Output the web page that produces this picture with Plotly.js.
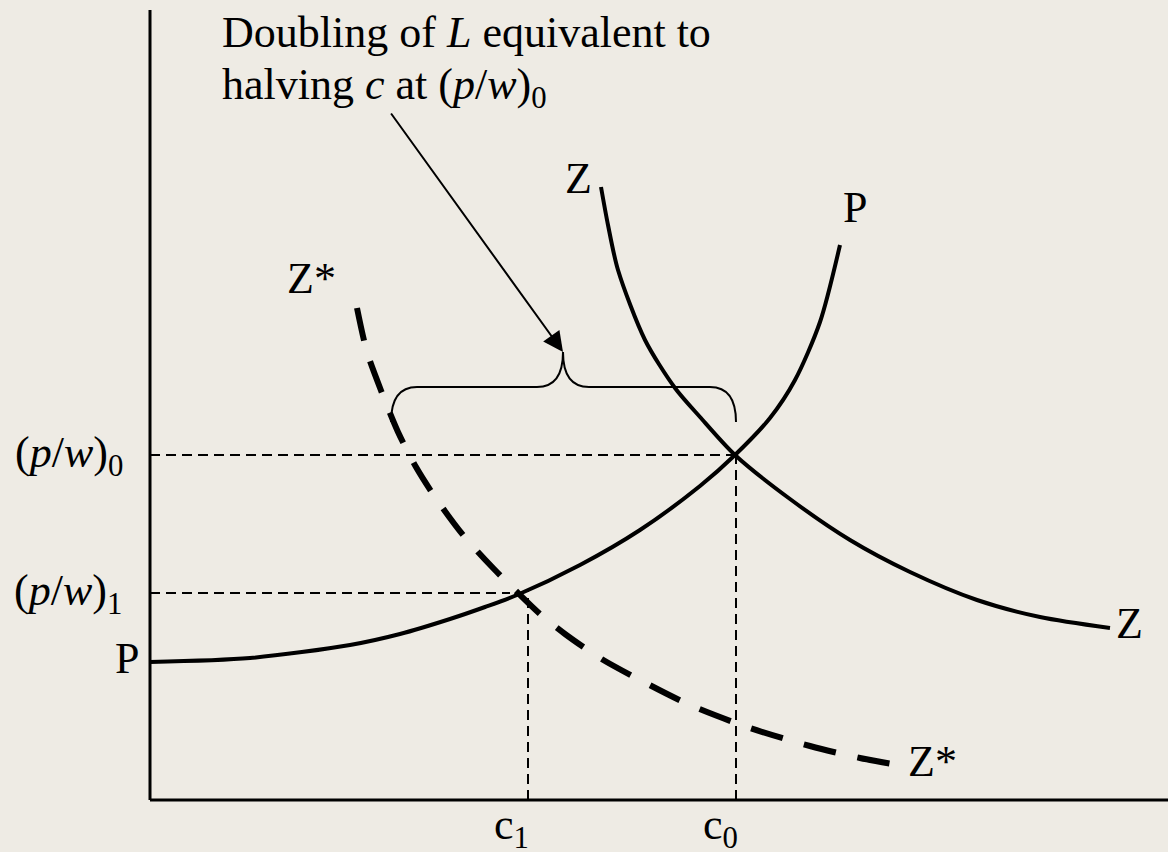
<!DOCTYPE html>
<html>
<head>
<meta charset="utf-8">
<script src="https://cdn.plot.ly/plotly-3.0.1.min.js"></script>
<style>html,body{margin:0;padding:0;background:#EEEBE4;}</style>
</head>
<body>
<div id="chart" style="width:1168px;height:852px;"></div>
<script>
// ---- data (diagram units) ----
const pX  = [0, 100, 200, 250, 300, 335, 367, 430, 490, 550, 585, 620, 645, 670, 690];
const pY  = [138, 142, 155, 166, 181, 193, 205, 235, 270, 314, 345, 382, 420, 478, 555];

const zX  = [451, 458, 468, 495, 525, 550, 585, 640, 700, 760, 827, 890, 960];
const zY  = [613, 575, 530, 460, 412, 383, 345, 301, 260, 228, 200, 183, 172];

const zsX = [207, 217, 232, 248, 266, 287, 313, 344, 367, 390, 415, 450, 490, 540, 600, 660, 710, 748];
const zsY = [492, 448, 407, 368, 333, 300, 265, 231, 208, 186, 166, 142, 120, 95, 72, 54, 42, 35];

const pw0 = 345, pw1 = 207;   // (p/w)0, (p/w)1 levels
const c0 = 586, c1 = 378;     // c0, c1 positions
const pw1End = 360, c1Top = 211;

const braceLeft = 241, braceRight = 586, braceTip = 413;
const braceBase = 378, braceBar = 413, braceTop = 448;

const arrowTail = [240, 688];

const noteLines = ['Doubling of <i>L</i> equivalent to',
                   'halving <i>c</i> at (<i>p</i>/<i>w</i>)<sub>0</sub>'];

const BG = '#EEEBE4';
const FONT = {family: 'Liberation Serif, Times New Roman, serif', size: 44, color: '#000'};

const traces = [
  {x: pX, y: pY, mode: 'lines', line: {color: '#000', width: 4, shape: 'spline', smoothing: 0.8}, hoverinfo: 'skip'},
  {x: zX, y: zY, mode: 'lines', line: {color: '#000', width: 4, shape: 'spline', smoothing: 0.8}, hoverinfo: 'skip'},
  {x: zsX, y: zsY, mode: 'lines', line: {color: '#000', width: 6, shape: 'spline', smoothing: 0.8, dash: '33px,22px'}, hoverinfo: 'skip'}
];

const guide = {color: '#000', width: 2, dash: '10px,6px'};
const r = 26;
const bracePath =
  `M ${braceLeft},${braceBase} Q ${braceLeft},${braceBar} ${braceLeft + r},${braceBar} ` +
  `L ${braceTip - r},${braceBar} Q ${braceTip},${braceBar} ${braceTip},${braceTop} ` +
  `Q ${braceTip},${braceBar} ${braceTip + r},${braceBar} ` +
  `L ${braceRight - r},${braceBar} Q ${braceRight},${braceBar} ${braceRight},${braceBase}`;

const shapes = [
  {type: 'line', x0: 0, x1: 0, y0: 0, y1: 790, line: {color: '#000', width: 3}},
  {type: 'line', x0: 0, x1: 1018, y0: 0, y1: 0, line: {color: '#000', width: 3}},
  {type: 'line', x0: 0, x1: c0, y0: pw0, y1: pw0, line: guide},
  {type: 'line', x0: 0, x1: pw1End, y0: pw1, y1: pw1, line: guide},
  {type: 'line', x0: c1, x1: c1, y0: 0, y1: c1Top, line: guide},
  {type: 'line', x0: c0, x1: c0, y0: 0, y1: pw0, line: guide},
  {type: 'path', path: bracePath, line: {color: '#000', width: 2}}
];

function lab(text, x, y, xa, ya) {
  return {text: text, x: x, y: y, xref: 'x', yref: 'y', showarrow: false,
          xanchor: xa || 'center', yanchor: ya || 'middle', font: FONT};
}

const annotations = [
  lab(noteLines[0], 70, 794, 'left', 'top'),
  lab(noteLines[1], 70, 742, 'left', 'top'),
  {text: '', x: braceTip, y: braceTop, ax: arrowTail[0], ay: arrowTail[1], axref: 'x', ayref: 'y',
   xref: 'x', yref: 'y', showarrow: true, arrowhead: 2, arrowsize: 2, arrowwidth: 2, arrowcolor: '#000'},
  lab('(<i>p</i>/<i>w</i>)<sub>0</sub>', -25, pw0, 'right'),
  lab('(<i>p</i>/<i>w</i>)<sub>1</sub>', -26, pw1, 'right'),
  lab('P', -9, 142, 'right'),
  lab('Z', 428, 622),
  lab('P', 705, 593),
  lab('Z*', 161, 522),
  lab('Z', 979, 177),
  lab('Z*', 782, 39),
  lab('c<sub>1</sub>', 361, -27),
  lab('c<sub>0</sub>', 570, -27)
];

const layout = {
  width: 1168, height: 852, autosize: false,
  margin: {l: 0, r: 0, t: 0, b: 0, pad: 0},
  paper_bgcolor: BG, plot_bgcolor: BG,
  showlegend: false,
  xaxis: {range: [-150, 1018], visible: false, fixedrange: true},
  yaxis: {range: [-52, 800], visible: false, fixedrange: true},
  shapes: shapes,
  annotations: annotations,
  font: FONT
};

Plotly.newPlot('chart', traces, layout, {staticPlot: true, displayModeBar: false});
</script>
</body>
</html>
